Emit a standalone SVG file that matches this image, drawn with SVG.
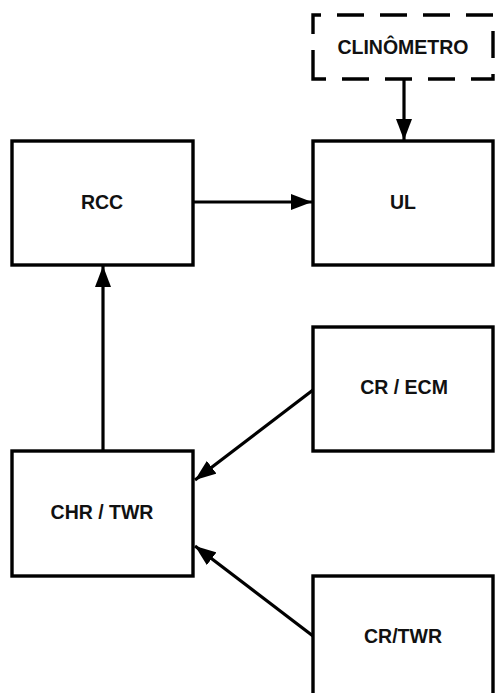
<svg xmlns="http://www.w3.org/2000/svg" width="495" height="693" viewBox="0 0 495 693">
<style>
.box{fill:#fff;stroke:#000;stroke-width:3.4}
.dash{fill:none;stroke:#000;stroke-width:3.4;stroke-dasharray:27 16}
.lbl{font-family:"Liberation Sans",Arial,sans-serif;font-weight:bold;font-size:19.5px;fill:#111;text-anchor:middle}
.edge{fill:none;stroke:#000;stroke-width:3.2}
</style>
<defs>
<marker id="ah" markerUnits="userSpaceOnUse" markerWidth="22" markerHeight="16" refX="21" refY="8" orient="auto">
<path d="M0,0 L21,8 L0,16 z" fill="#000"/>
</marker>
</defs>
<rect width="495" height="693" fill="#fff"/>
<g id="clinometro">
<path class="dash" d="M313,65 L313,79 L493,79 L493,15 L313,15 L313,65"/>
<text class="lbl" x="403" y="54">CLINÔMETRO</text>
</g>
<g id="rcc">
<rect class="box" x="12" y="141" width="181" height="124"/>
<text class="lbl" x="102" y="209">RCC</text>
</g>
<g id="ul">
<rect class="box" x="313" y="141" width="180" height="124"/>
<text class="lbl" x="403" y="209">UL</text>
</g>
<g id="cr-ecm">
<rect class="box" x="313" y="327" width="180" height="124"/>
<text class="lbl" x="404" y="394">CR / ECM</text>
</g>
<g id="chr-twr">
<rect class="box" x="12" y="451" width="181" height="125"/>
<text class="lbl" x="102" y="519">CHR / TWR</text>
</g>
<g id="cr-twr">
<rect class="box" x="313" y="576" width="180" height="130"/>
<text class="lbl" x="403" y="643">CR/TWR</text>
</g>
<g id="connectors">
<line class="edge" x1="404" y1="79" x2="404" y2="140" marker-end="url(#ah)"/>
<line class="edge" x1="193" y1="202" x2="312" y2="202" marker-end="url(#ah)"/>
<line class="edge" x1="103" y1="451" x2="103" y2="266" marker-end="url(#ah)"/>
<line class="edge" x1="313" y1="390" x2="195" y2="480" marker-end="url(#ah)"/>
<line class="edge" x1="313" y1="636" x2="195" y2="546" marker-end="url(#ah)"/>
</g>
</svg>
